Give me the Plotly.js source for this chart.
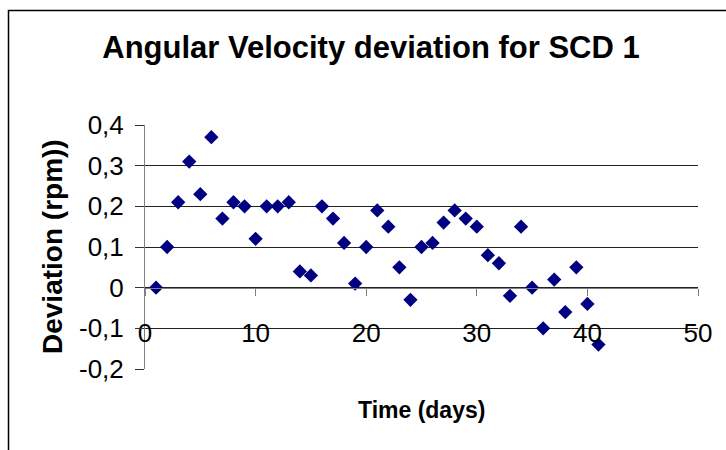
<!DOCTYPE html>
<html>
<head>
<meta charset="utf-8">
<script src="https://cdn.plot.ly/plotly-3.0.1.min.js"></script>
<style>
  html, body { margin: 0; padding: 0; background: #fff; }
  #chart { width: 726px; height: 450px; }
</style>
</head>
<body>
<div id="chart"></div>
<script>
// Data
const days = [1, 2, 3, 4, 5, 6, 7, 8, 9, 10,
              11, 12, 13, 14, 15, 16, 17, 18, 19, 20,
              21, 22, 23, 24, 25, 26, 27, 28, 29, 30,
              31, 32, 33, 34, 35, 36, 37, 38, 39, 40, 41];
const deviation = [0.00, 0.10, 0.21, 0.31, 0.23, 0.37, 0.17, 0.21, 0.20, 0.12,
                   0.20, 0.20, 0.21, 0.04, 0.03, 0.20, 0.17, 0.11, 0.01, 0.10,
                   0.19, 0.15, 0.05, -0.03, 0.10, 0.11, 0.16, 0.19, 0.17, 0.15,
                   0.08, 0.06, -0.02, 0.15, 0.00, -0.10, 0.02, -0.06, 0.05, -0.04, -0.14];
const xTickVals = [0, 10, 20, 30, 40, 50];
const xTickLabels = ['0', '10', '20', '30', '40', '50'];
const yTickVals = [0.4, 0.3, 0.2, 0.1, 0, -0.1, -0.2];
const yTickLabels = ['0,4', '0,3', '0,2', '0,1', '0', '-0,1', '-0,2'];
const chartTitle = 'Angular Velocity deviation for SCD 1';
const xTitle = 'Time (days)';
const yTitle = 'Deviation (rpm))';

const W = 726, H = 450;
const L = 145, R = 698, T = 125, B = 369;
const pw = R - L, ph = B - T;
const FONT = 'Arial, "Liberation Sans", sans-serif';

const trace = {
  x: days,
  y: deviation,
  type: 'scatter',
  mode: 'markers',
  marker: { symbol: 'diamond', size: 11, color: '#000080', line: { width: 0 } },
  hoverinfo: 'x+y'
};

const layout = {
  width: W, height: H,
  margin: { l: L, r: W - R, t: T, b: H - B, pad: 0 },
  paper_bgcolor: '#ffffff',
  plot_bgcolor: '#ffffff',
  showlegend: false,
  font: { family: FONT, color: '#000' },
  title: {
    text: '<b>' + chartTitle + '</b>',
    font: { family: FONT, size: 31, color: '#000' },
    x: 371 / W, xanchor: 'center', xref: 'container',
    y: 1 - 47 / H, yanchor: 'middle', yref: 'container'
  },
  xaxis: {
    range: [0, 50],
    tickvals: xTickVals,
    ticktext: xTickLabels,
    anchor: 'free',
    position: (0 - (-0.2)) / 0.6,
    showline: true, linecolor: '#808080', linewidth: 1,
    ticks: 'outside', ticklen: 7, tickcolor: '#808080', tickwidth: 1,
    ticklabelstandoff: 15,
    showgrid: false, zeroline: false,
    tickfont: { family: FONT, size: 26, color: '#000' }
  },
  yaxis: {
    range: [-0.2, 0.4],
    tickvals: yTickVals,
    ticktext: yTickLabels,
    showline: true, linecolor: '#808080', linewidth: 1,
    ticks: 'outside', ticklen: 9, tickcolor: '#333', tickwidth: 1,
    showgrid: true, gridcolor: '#222', gridwidth: 1,
    zeroline: false,
    ticklabelstandoff: 6,
    tickfont: { family: FONT, size: 26, color: '#000' }
  },
  annotations: [
    {
      text: '<b>' + xTitle + '</b>',
      xref: 'paper', yref: 'paper',
      x: 0.5, y: (B - 410) / ph,
      xanchor: 'center', yanchor: 'middle',
      showarrow: false,
      font: { family: FONT, size: 23, color: '#000' }
    },
    {
      text: '<b>' + yTitle + '</b>',
      xref: 'paper', yref: 'paper',
      x: (52 - L) / pw, y: 0.5,
      xanchor: 'center', yanchor: 'middle',
      textangle: -90,
      showarrow: false,
      font: { family: FONT, size: 28, color: '#000' }
    }
  ],
  shapes: [
    {
      type: 'rect', xref: 'paper', yref: 'paper', layer: 'below',
      x0: (8.5 - L) / pw, x1: (740 - L) / pw,
      y0: (B - 470) / ph, y1: (B - 10.5) / ph,
      line: { color: '#000', width: 1.5 }, fillcolor: 'rgba(0,0,0,0)'
    }
  ]
};

Plotly.newPlot('chart', [trace], layout, { displayModeBar: false, staticPlot: true });
</script>
</body>
</html>
